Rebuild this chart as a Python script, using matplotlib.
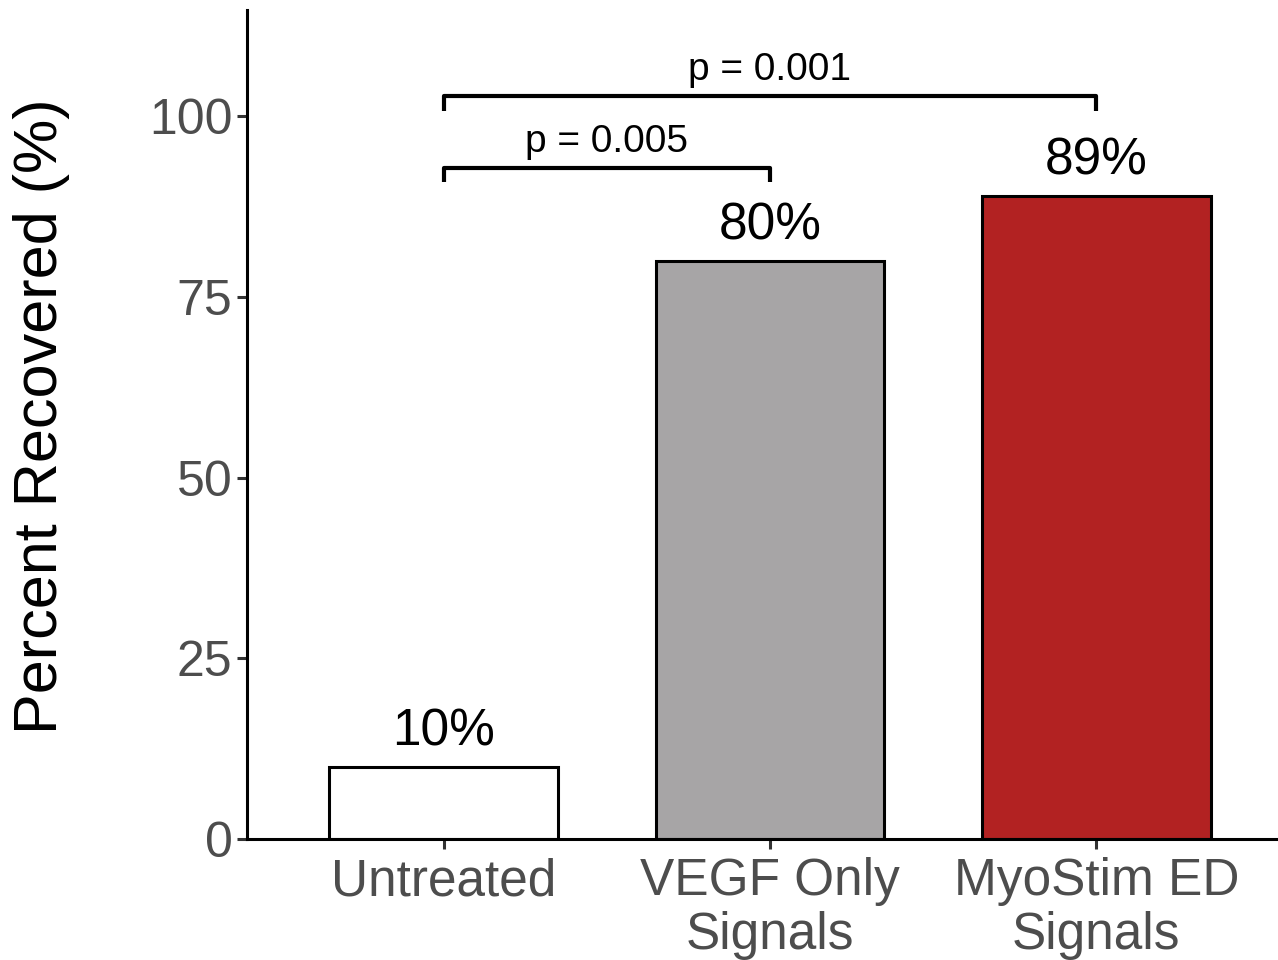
import numpy as np
import matplotlib.pyplot as plt

plt.rcParams['font.family'] = ['Liberation Sans', 'DejaVu Sans']

groups = ['Untreated', 'VEGF Only\nSignals', 'MyoStim ED\nSignals']
recovered = [10, 80, 89]
bar_colors = ['#FFFFFF', '#A7A5A6', '#B22222']

# comparisons: (from group, to group, bracket height, p label)
comparisons = [(0, 2, 102.8, 'p = 0.001'), (0, 1, 92.9, 'p = 0.005')]

fig = plt.figure(figsize=(12.78, 9.6), dpi=100)
ax = fig.add_axes([0.1933, 0.126, 0.805, 0.8635])

x = np.arange(1, len(groups) + 1)
ax.bar(x, recovered, width=0.7, color=bar_colors, edgecolor='black', linewidth=2.2, zorder=2)

for xi, v in zip(x, recovered):
    ax.text(xi, v + 1.4, '%d%%' % v, ha='center', va='bottom', fontsize=37, color='black')

for a, b, h, lab in comparisons:
    xa, xb = x[a], x[b]
    ax.plot([xa, xa, xb, xb], [h - 2, h, h, h - 2], color='black', lw=3, solid_capstyle='butt', clip_on=False)
    ax.text((xa + xb) / 2, h + 1.1, lab, ha='center', va='bottom', fontsize=28, color='black')

ax.set_xlim(0.398, 3.55)
ax.set_ylim(0, 114.7)
ax.set_yticks([0, 25, 50, 75, 100])
ax.set_xticks(x)
ax.set_xticklabels(groups, linespacing=1.12)

ax.spines['top'].set_visible(False)
ax.spines['right'].set_visible(False)
for s in ['left', 'bottom']:
    ax.spines[s].set_linewidth(2.2)
ax.tick_params(axis='both', width=2.2, length=7, colors='#333333', labelcolor='#4D4D4D', labelsize=36)
ax.tick_params(axis='x', labelsize=37, pad=6)
ax.set_ylabel('Percent Recovered (%)', fontsize=44)
ax.yaxis.set_label_coords(-0.172, 0.51)

fig.savefig('out.png', dpi=100)
